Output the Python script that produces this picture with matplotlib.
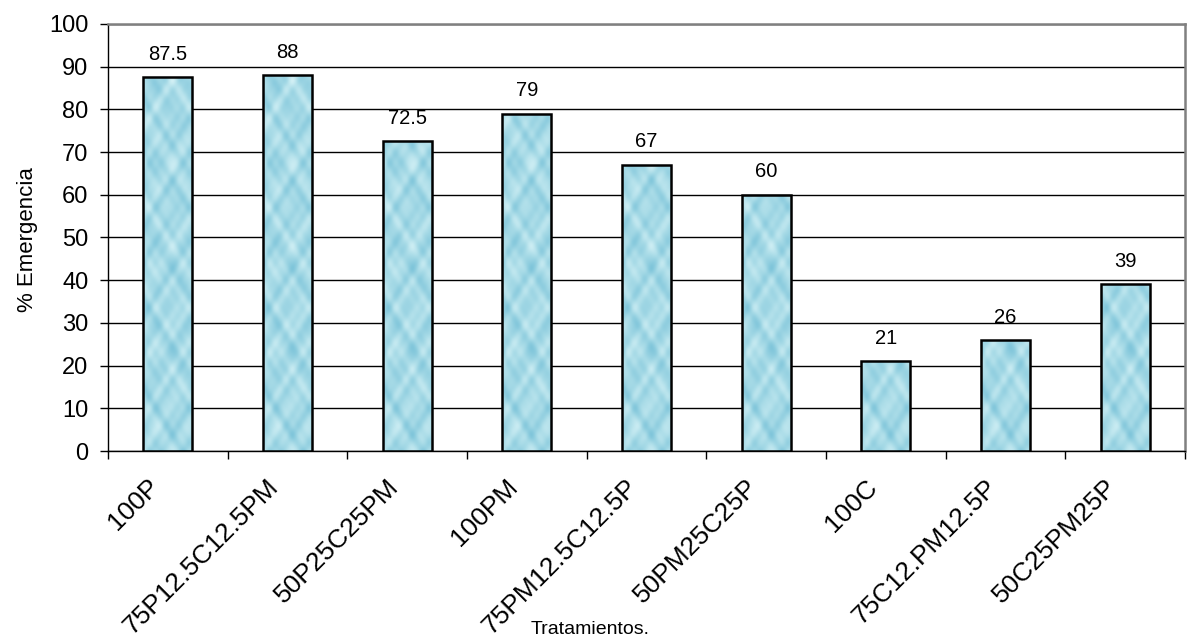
import numpy as np
import matplotlib
matplotlib.use("Agg")
import matplotlib.pyplot as plt
import matplotlib.transforms as mtransforms
from matplotlib.colors import LinearSegmentedColormap

categories = ["100P", "75P12.5C12.5PM", "50P25C25PM", "100PM", "75PM12.5C12.5P",
              "50PM25C25P", "100C", "75C12.PM12.5P", "50C25PM25P"]
values = [87.5, 88, 72.5, 79, 67, 60, 21, 26, 39]
value_labels = ["87.5", "88", "72.5", "79", "67", "60", "21", "26", "39"]
yticks = list(range(0, 101, 10))

plt.rcParams['font.family'] = ['Liberation Sans', 'DejaVu Sans']

fig = plt.figure(figsize=(11.96, 6.44), dpi=100)
ax = fig.add_axes([108/1196, 1-451/644, (1185-108)/1196, (451-24)/644])

x = np.arange(len(categories))
bars = ax.bar(x, values, width=0.41, facecolor='none', edgecolor='black', linewidth=1.8, zorder=4)

# water-drop like texture (deterministic pattern)
yy, xx = np.mgrid[0:400, 0:60].astype(float)
tex = (np.cos(xx/5.3) * np.cos(yy/6.1)
       + 0.8*np.cos(xx/3.1 + 1.0) * np.cos(yy/4.3 + 0.5)
       + 0.6*np.cos(xx/8.7 + 2.0) * np.cos(yy/11.3 + 1.2)
       + 0.4*np.cos(xx/2.2) * np.cos(yy/2.7 + 0.7))
tex = (tex - tex.min()) / (tex.max() - tex.min())
cmap = LinearSegmentedColormap.from_list("water", ["#7fc5da", "#a8dbe7", "#d2f0f5"])
for b in bars:
    x0, w, h = b.get_x(), b.get_width(), b.get_height()
    n = max(int(h / 100 * 400), 2)
    im = ax.imshow(tex[:n], cmap=cmap, vmin=0, vmax=1, extent=[x0, x0+w, 0, h], aspect='auto', zorder=3,
                   interpolation='bilinear', origin='lower')
    im.set_clip_path(b)

for b, lab in zip(bars, value_labels):
    ax.annotate(lab, (b.get_x()+b.get_width()/2, b.get_height()), xytext=(0, 16.5),
                textcoords='offset points', ha='center', va='center', fontsize=14.5)

ax.set_xlim(-0.5, len(categories)-0.5)
ax.set_ylim(0, 100)
ax.set_yticks(yticks)
ax.set_yticklabels([str(t) for t in yticks], fontsize=17)
ax.yaxis.grid(True, color='black', linewidth=1.0, zorder=0)
ax.set_axisbelow(True)
ax.tick_params(axis='y', direction='out', length=6, width=1, pad=8)

ax.set_xticks(x)
ax.set_xticklabels(categories, rotation=45, ha='right', rotation_mode='anchor', fontsize=19)
ax.tick_params(axis='x', which='major', length=0, pad=17)
ax.set_xticks(np.arange(-0.5, len(categories)), minor=True)
ax.tick_params(axis='x', which='minor', direction='out', length=6, width=1)
shift = mtransforms.ScaledTranslation(-21/100, 0, fig.dpi_scale_trans)
for lab in ax.get_xticklabels():
    lab.set_transform(lab.get_transform() + shift)

for s in ['left', 'bottom']:
    ax.spines[s].set_color('black')
    ax.spines[s].set_linewidth(1.0)
for s in ['top', 'right']:
    ax.spines[s].set_color('#808080')
    ax.spines[s].set_linewidth(1.8)

fig.text(28/1196, 1-240/644, "% Emergencia", rotation=90, ha='center', va='center', fontsize=16)
fig.text(590/1196, 1-630/644, "Tratamientos.", ha='center', va='center', fontsize=14)

fig.savefig("out.png", dpi=100, facecolor='white')
